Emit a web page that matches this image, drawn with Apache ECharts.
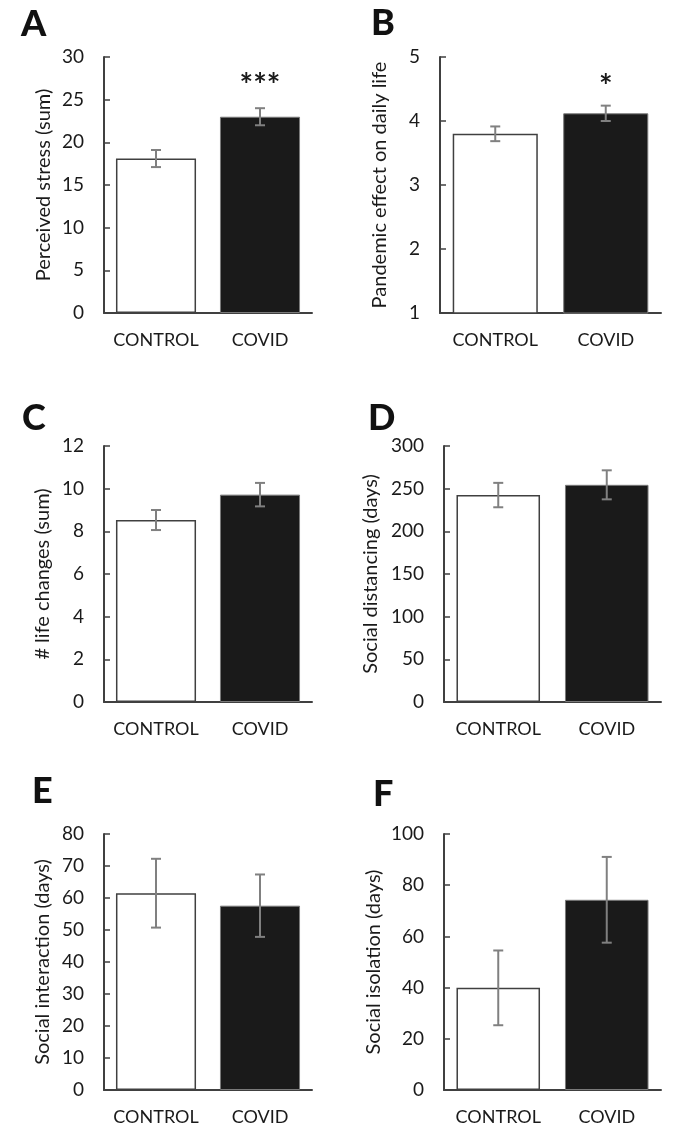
<!DOCTYPE html>
<html>
<head>
<meta charset="utf-8">
<script src="https://cdn.jsdelivr.net/npm/echarts@6/dist/echarts.min.js"></script>
<style>
html,body{margin:0;padding:0;background:#fff;}
#chart{width:684px;height:1145px;}
</style>
</head>
<body>
<div id="chart"></div>
<script>
// ---- data ----
const categories = ['CONTROL', 'COVID'];
const panelLetters = ['A', 'B', 'C', 'D', 'E', 'F'];
const yNames = ['Perceived stress (sum)', 'Pandemic effect on daily life', '# life changes (sum)',
  'Social distancing (days)', 'Social interaction (days)', 'Social isolation (days)'];
const stressMean = [18.1, 23.0];
const stressErr = [1.0, 1.0];
const pandemicMean = [3.80, 4.12];
const pandemicErr = [0.115, 0.12];
const lifeMean = [8.53, 9.72];
const lifeErr = [0.47, 0.55];
const distMean = [242.5, 254.5];
const distErr = [14.3, 17.0];
const interMean = [61.5, 57.6];
const interErr = [10.75, 9.75];
const isoMean = [39.9, 74.3];
const isoErr = [14.6, 16.75];
const yMin = [0, 1, 0, 0, 0, 0];
const yMax = [30, 5, 12, 300, 80, 100];
const yInterval = [5, 1, 2, 50, 10, 20];
const significance = ['***', '*', '', '', '', ''];

const means = [stressMean, pandemicMean, lifeMean, distMean, interMean, isoMean];
const errs = [stressErr, pandemicErr, lifeErr, distErr, interErr, isoErr];

// ---- layout ----
const grids = [
  {left: 104, top: 57, width: 208, height: 256},
  {left: 440, top: 57, width: 221, height: 256},
  {left: 104, top: 446, width: 208, height: 256},
  {left: 444, top: 446, width: 217, height: 256},
  {left: 104, top: 834, width: 208, height: 256},
  {left: 444, top: 834, width: 217, height: 256}
];
const nameGaps = [50, 50, 51, 63, 51, 60];
const letterPos = [[21, 6], [371, 5], [22, 400], [368, 400], [32, 773], [373, 776]];
const starGap = [6, 2, 0, 0, 0, 0];

const FONT = 'Lato';
const TXT = '#1a1a1a';
const AX = '#404040';
const ERR = '#808080';

const xAxes = [], yAxes = [], series = [], graphics = [];
for (let i = 0; i < 6; i++) {
  xAxes.push({
    type: 'category', gridIndex: i, data: categories,
    axisLine: {lineStyle: {color: AX, width: 2}},
    axisTick: {show: false},
    axisLabel: {color: TXT, fontFamily: FONT, fontSize: 18, margin: 18, interval: 0, hideOverlap: false}
  });
  yAxes.push({
    type: 'value', gridIndex: i, min: yMin[i], max: yMax[i], interval: yInterval[i],
    name: yNames[i], nameLocation: 'middle', nameGap: nameGaps[i], nameRotate: 90,
    nameTextStyle: {color: TXT, fontFamily: FONT, fontSize: 20},
    axisLine: {show: true, lineStyle: {color: AX, width: 2}},
    axisTick: {show: true, inside: true, length: 6, lineStyle: {color: AX, width: 1.5}},
    axisLabel: {color: TXT, fontFamily: FONT, fontSize: 19, margin: 20},
    splitLine: {show: false}
  });
  series.push({
    type: 'bar', xAxisIndex: i, yAxisIndex: i, barCategoryGap: '23%', clip: true,
    silent: true, animation: false,
    data: means[i].map((v, k) => ({
      value: v,
      itemStyle: k === 0 ? {color: '#ffffff', borderColor: '#404040', borderWidth: 1.5}
                         : {color: '#1a1a1a', borderColor: '#7a7a7a', borderWidth: 1}
    }))
  });
  const mark = significance[i];
  const gap = starGap[i];
  series.push({
    type: 'custom', xAxisIndex: i, yAxisIndex: i, silent: true, animation: false, z: 10,
    data: means[i].map((v, k) => [k, v - errs[i][k], v + errs[i][k], k === 1 ? mark : '']),
    renderItem: function (params, api) {
      const lo = api.coord([api.value(0), api.value(1)]);
      const hi = api.coord([api.value(0), api.value(2)]);
      const cap = 5;
      const st = {stroke: ERR, lineWidth: 2};
      const children = [
        {type: 'line', shape: {x1: lo[0], y1: lo[1], x2: hi[0], y2: hi[1]}, style: st},
        {type: 'line', shape: {x1: lo[0] - cap, y1: lo[1], x2: lo[0] + cap, y2: lo[1]}, style: st},
        {type: 'line', shape: {x1: hi[0] - cap, y1: hi[1], x2: hi[0] + cap, y2: hi[1]}, style: st}
      ];
      const label = api.value(3);
      if (label) {
        children.push({type: 'text', x: hi[0], y: hi[1] - gap,
          style: {text: label, fill: TXT, font: 'bold 32px ' + FONT, align: 'center', verticalAlign: 'bottom'}});
      }
      return {type: 'group', children: children};
    }
  });
  graphics.push({
    type: 'text', left: letterPos[i][0], top: letterPos[i][1],
    style: {text: panelLetters[i], fill: '#111', font: '900 36px ' + FONT}
  });
}

const chart = echarts.init(document.getElementById('chart'), null, {renderer: 'canvas'});
chart.setOption({
  animation: false,
  backgroundColor: '#ffffff',
  grid: grids,
  xAxis: xAxes,
  yAxis: yAxes,
  series: series,
  graphic: graphics
});
</script>
</body>
</html>
